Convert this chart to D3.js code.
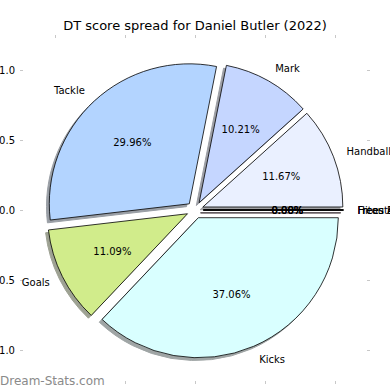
<!DOCTYPE html>
<html lang="en">
<head>
<meta charset="UTF-8">
<title>DT score spread</title>
<script src="https://d3js.org/d3.v7.min.js"></script>
<style>
  body { margin: 0; background: #fff; }
  svg { display: block; font-family: "DejaVu Sans", sans-serif; }
</style>
</head>
<body>
<svg width="390" height="390"></svg>
<script>
// slices go counter-clockwise from 3 o'clock, like matplotlib
const labels = ["Handball", "Mark", "Tackle", "Goals", "Kicks", "Frees For", "Frees Against", "Hitouts"];
const values = [11.67, 10.21, 29.96, 11.09, 37.06, 0, 0, 0];
const colors = ["#eaf0ff", "#c5d6ff", "#b3d4ff", "#d1ec8b", "#d9ffff", "#ffe0b3", "#ffd1d1", "#e6d1ff"];
const tickValues = [-1, -0.5, 0, 0.5, 1];
const explode = 0.06;

const svg = d3.select("svg");

const x = d3.scaleLinear().domain([-1.25, 1.25]).range([20, 370]);
const y = d3.scaleLinear().domain([-1.25, 1.25]).range([385, 35]);
const r = x(1) - x(0);
const cx = x(0), cy = y(0);

// axes: only tick marks, labels on left and bottom
const fmt = d => d.toFixed(1).replace("-", "\u2212");
function styleAxis(g) {
    g.select(".domain").remove();
    g.attr("font-family", "DejaVu Sans").attr("font-size", 10);
    g.selectAll(".tick line").attr("stroke", "#c8c8c8");
    g.selectAll(".tick text").attr("fill", "#000");
}
svg.append("g").attr("transform", "translate(23,0)")
    .call(d3.axisLeft(y).tickValues(tickValues).tickSize(3).tickPadding(5).tickFormat(fmt))
    .call(styleAxis);
svg.append("g").attr("transform", "translate(367,0)")
    .call(d3.axisRight(y).tickValues(tickValues).tickSize(3).tickFormat(""))
    .call(styleAxis);
svg.append("g").attr("transform", "translate(0,38)")
    .call(d3.axisTop(x).tickValues(tickValues).tickSize(3).tickFormat(""))
    .call(styleAxis);
svg.append("g").attr("transform", "translate(0,381)")
    .call(d3.axisBottom(x).tickValues(tickValues).tickSize(3).tickPadding(8).tickFormat(fmt))
    .call(styleAxis);

// pie
const pie = d3.pie().sort(null).startAngle(Math.PI / 2).endAngle(Math.PI / 2 - 2 * Math.PI);
const arcs = pie(values);
const arc = d3.arc().innerRadius(0).outerRadius(r);
const total = d3.sum(values);

function shift(d, k) {
    const a = (d.startAngle + d.endAngle) / 2;
    return [cx + Math.sin(a) * k * r, cy - Math.cos(a) * k * r];
}
function shade(c) {
    const col = d3.rgb(c);
    return d3.rgb(col.r * 0.3, col.g * 0.3, col.b * 0.3).toString();
}

const g = svg.append("g");
// shadows behind everything
g.selectAll(".shadow")
    .data(arcs)
    .enter().append("path")
    .attr("class", "shadow")
    .attr("transform", d => { const p = shift(d, explode); return `translate(${p[0] - 0.02 * r},${p[1] + 0.02 * r})`; })
    .attr("d", arc)
    .attr("fill", (d, i) => shade(colors[i]))
    .attr("stroke", (d, i) => shade(colors[i]))
    .attr("stroke-width", 1)
    .attr("opacity", 0.5);

g.selectAll(".wedge")
    .data(arcs)
    .enter().append("path")
    .attr("class", "wedge")
    .attr("transform", d => { const p = shift(d, explode); return `translate(${p[0]},${p[1]})`; })
    .attr("d", arc)
    .attr("fill", (d, i) => colors[i])
    .attr("stroke", "#000")
    .attr("stroke-width", 0.8)
    .attr("stroke-linejoin", "round");

g.selectAll(".label")
    .data(arcs)
    .enter().append("text")
    .attr("class", "label")
    .attr("x", d => shift(d, explode + 1.1)[0])
    .attr("y", d => shift(d, explode + 1.1)[1])
    .attr("text-anchor", d => shift(d, explode + 1.1)[0] > cx ? "start" : "end")
    .attr("dominant-baseline", "central")
    .attr("font-size", 10)
    .text((d, i) => labels[i]);

g.selectAll(".pct")
    .data(arcs)
    .enter().append("text")
    .attr("class", "pct")
    .attr("x", d => shift(d, explode + 0.6)[0])
    .attr("y", d => shift(d, explode + 0.6)[1])
    .attr("text-anchor", "middle")
    .attr("dominant-baseline", "central")
    .attr("font-size", 10)
    .text(d => (d.value / total * 100).toFixed(2) + "%");

svg.append("text")
    .attr("x", 195).attr("y", 30)
    .attr("text-anchor", "middle")
    .attr("font-size", 13)
    .text("DT score spread for Daniel Butler (2022)");

svg.append("text")
    .attr("x", 0).attr("y", 385)
    .attr("font-size", 12)
    .attr("fill", "#8a8a8a")
    .text("Dream-Stats.com");
</script>
</body>
</html>
